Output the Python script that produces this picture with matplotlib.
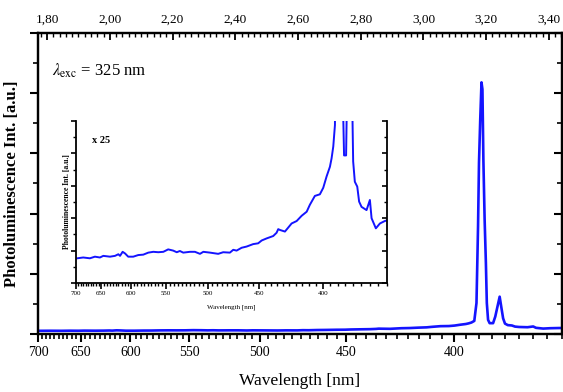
import numpy as np
import matplotlib
matplotlib.use("Agg")
import matplotlib.pyplot as plt

# PL spectrum, photon energy [eV] vs intensity [a.u.]
energy_ev = [1.778, 1.810, 1.846, 1.873, 1.900, 1.918, 1.954, 1.981, 1.999, 2.008,
             2.022, 2.035, 2.052, 2.079, 2.106, 2.133, 2.160, 2.187, 2.214, 2.241,
             2.267, 2.294, 2.313, 2.330, 2.348, 2.384, 2.411, 2.438, 2.456, 2.492,
             2.536, 2.563, 2.599, 2.617, 2.635, 2.662, 2.689, 2.724, 2.751, 2.770,
             2.796, 2.814, 2.832, 2.850, 2.859, 2.868, 2.895, 2.913, 2.931, 2.958,
             2.985, 3.012, 3.029, 3.056, 3.083, 3.101, 3.119, 3.137, 3.146, 3.155,
             3.164, 3.171, 3.176, 3.179, 3.183, 3.187, 3.190, 3.193, 3.197, 3.201,
             3.204, 3.208, 3.213, 3.224, 3.231, 3.238, 3.245, 3.250, 3.256, 3.262,
             3.271, 3.284, 3.294, 3.307, 3.334, 3.352, 3.361, 3.384, 3.406, 3.432,
             3.448]
intensity = [0.0106, 0.0108, 0.0106, 0.0110, 0.0108, 0.0112, 0.0110, 0.0112, 0.0116, 0.0112,
             0.0122, 0.0118, 0.0110, 0.0110, 0.0114, 0.0115, 0.0120, 0.0122, 0.0121, 0.0122,
             0.0128, 0.0125, 0.0121, 0.0124, 0.0120, 0.0122, 0.0122, 0.0117, 0.0122, 0.0120,
             0.0117, 0.0121, 0.0120, 0.0127, 0.0125, 0.0132, 0.0135, 0.0141, 0.0143, 0.0150,
             0.0155, 0.0158, 0.0161, 0.0169, 0.0178, 0.0176, 0.0172, 0.0182, 0.0192, 0.0198,
             0.0211, 0.0221, 0.0238, 0.0260, 0.0264, 0.0280, 0.0308, 0.0332, 0.0353, 0.0382,
             0.0435, 0.103, 0.358, 0.569, 0.713, 0.836, 0.813, 0.580, 0.380, 0.237,
             0.103, 0.047, 0.036, 0.036, 0.058, 0.091, 0.124, 0.091, 0.052, 0.0345,
             0.0295, 0.0283, 0.0246, 0.0233, 0.0225, 0.0250, 0.0205, 0.0180, 0.0192, 0.0198,
             0.0200]

wl_major = [700, 650, 600, 550, 500, 450, 400]
wl_minor = list(range(700, 355, -5))
ev_major = [1.80, 2.00, 2.20, 2.40, 2.60, 2.80, 3.00, 3.20, 3.40]
ev_labels = ["1,80", "2,00", "2,20", "2,40", "2,60", "2,80", "3,00", "3,20", "3,40"]
zoom_factor = 25

HC = 1239.84
blue = "#1414ff"

plt.rcParams["font.family"] = "Liberation Serif"
plt.rcParams["mathtext.fontset"] = "stix"

fig = plt.figure(figsize=(5.63, 3.92), dpi=100)
W, H = 563., 392.

xlim = (HC / 700, 3.4416)

# ---- main axes
ax = fig.add_axes([38 / W, 58 / H, 524 / W, 301 / H])
ax.plot(energy_ev, intensity, color=blue, lw=1.9)
ax.set_xlim(xlim)
ax.set_ylim(0, 1.0)

ax.set_xticks([HC / w for w in wl_major])
ax.set_xticklabels([str(w) for w in wl_major])
ax.set_xticks([HC / w for w in wl_minor], minor=True)
ax.set_yticks(np.arange(0, 1.01, 0.2))
ax.set_yticks(np.arange(0.1, 1.0, 0.2), minor=True)
ax.set_yticklabels([])
ax.tick_params(axis="x", which="major", direction="out", length=6, width=1.5,
               labelsize=10, pad=3)
ax.tick_params(axis="x", which="minor", direction="out", length=3.5, width=1.2)
ax.tick_params(axis="y", which="major", direction="out", length=6, width=1.5,
               right=True)
ax.tick_params(axis="y", which="minor", direction="out", length=3.5, width=1.2,
               right=True)
for t in ax.yaxis.get_major_ticks() + ax.yaxis.get_minor_ticks():
    t.tick2line.set_marker(0)  # right side ticks point inwards
for s in ax.spines.values():
    s.set_linewidth(1.6)

ax.set_xlabel("Wavelength [nm]", fontsize=12.5, labelpad=10)
ax.set_ylabel("Photoluminescence Int. [a.u.]", fontsize=12, fontweight="bold")
ax.yaxis.set_label_coords(-0.034, 0.5)

ax.text(0.027, 0.875, r"$\lambda_{\mathrm{exc}}$ = 325 nm", transform=ax.transAxes,
        fontsize=12, va="center")

# ---- top energy axis
top = ax.twiny()
top.set_xlim(xlim)
top.set_xticks(ev_major)
top.set_xticklabels(ev_labels)
top.set_xticks(np.arange(1.78, 3.45, 0.02), minor=True)
top.tick_params(axis="x", which="major", direction="in", length=5, width=1.3,
                labelsize=9.5, pad=5)
top.tick_params(axis="x", which="minor", direction="in", length=3, width=1)
for s in top.spines.values():
    s.set_linewidth(1.6)

# ---- inset, x25
ins = fig.add_axes([76 / W, 109 / H, 311 / W, 162 / H])
ins.plot(energy_ev, intensity, color=blue, lw=1.4)
ins.set_xlim(xlim)
y0 = 0.0045
ins.set_ylim(y0, y0 + 1.0 / zoom_factor)
ins.spines["top"].set_visible(False)
ins.set_xticks([HC / w for w in wl_major])
ins.set_xticklabels([str(w) for w in wl_major])
ins.set_xticks([HC / w for w in wl_minor], minor=True)
ins.set_yticks(np.arange(y0, y0 + 0.0401, 0.008))
ins.set_yticks(np.arange(y0 + 0.004, y0 + 0.04, 0.008), minor=True)
ins.set_yticklabels([])
ins.tick_params(axis="x", which="major", direction="out", length=4, width=1.2,
                labelsize=5, pad=2)
ins.tick_params(axis="x", which="minor", direction="out", length=2.5, width=1)
ins.tick_params(axis="y", which="major", direction="out", length=3.5, width=1.2,
                right=True)
ins.tick_params(axis="y", which="minor", direction="out", length=2.5, width=1,
                right=True)
for t in ins.yaxis.get_major_ticks() + ins.yaxis.get_minor_ticks():
    t.tick2line.set_marker(0)
for s in ins.spines.values():
    s.set_linewidth(1.3)
ins.set_xlabel("Wavelength [nm]", fontsize=5, labelpad=6)
ins.set_ylabel("Photoluminescence Int. [a.u.]", fontsize=5.5, fontweight="bold")
ins.yaxis.set_label_coords(-0.015, 0.5)
ins.text(0.05, 0.88, "x 25", transform=ins.transAxes, fontsize=7.5,
         fontweight="bold", va="center")

fig.savefig("out.png", dpi=100)
